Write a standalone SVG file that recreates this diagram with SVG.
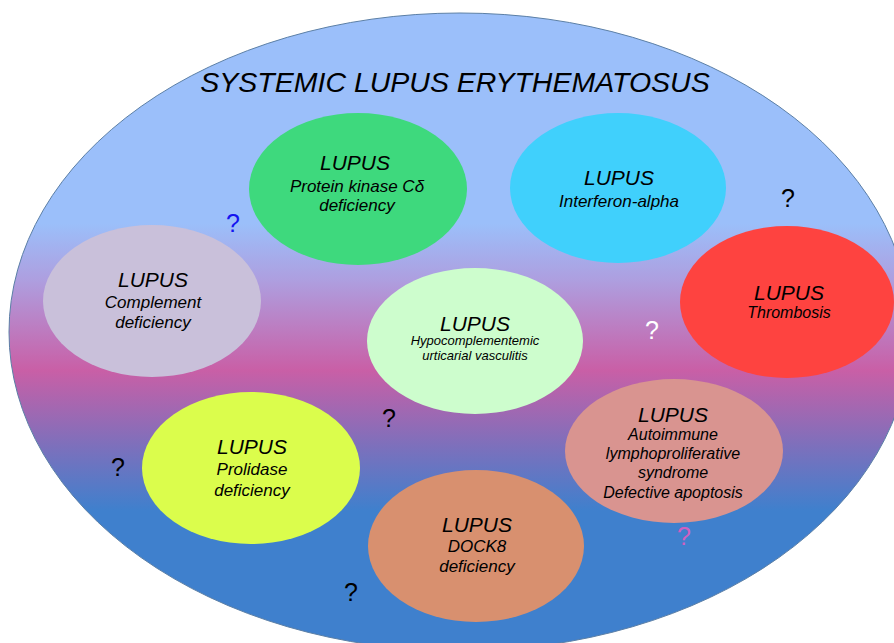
<svg xmlns="http://www.w3.org/2000/svg" width="894" height="643" viewBox="0 0 894 643">
<defs>
<linearGradient id="bg" x1="0" y1="0" x2="0" y2="1">
<stop offset="0" stop-color="#9bbffa"/>
<stop offset="0.33" stop-color="#9bbffa"/>
<stop offset="0.42" stop-color="#ae9edf"/>
<stop offset="0.56" stop-color="#c95fa6"/>
<stop offset="0.68" stop-color="#7c70bc"/>
<stop offset="0.78" stop-color="#3f80cd"/>
<stop offset="1" stop-color="#3f80cd"/>
</linearGradient>
<style>
text{font-family:"Liberation Sans",Arial,sans-serif;text-anchor:middle;fill:#000}
.it{font-style:italic}
.t{font-size:21px}
.s{font-size:17px}
.q{font-size:25px}
</style>
</defs>
<rect width="894" height="643" fill="#ffffff"/>
<g id="sle">
<ellipse cx="460" cy="332" rx="451" ry="319" fill="url(#bg)" stroke="#5b7fa6" stroke-width="1"/>
<text class="it" x="455" y="92" font-size="28.5">SYSTEMIC LUPUS ERYTHEMATOSUS</text>
</g>
<g id="pkcd">
<ellipse cx="358" cy="189" rx="109" ry="76" fill="#3ed97d"/>
<text class="it t" x="355" y="170">LUPUS</text>
<text class="it s" x="357" y="192">Protein kinase Cδ</text>
<text class="it s" x="357" y="211">deficiency</text>
</g>
<g id="ifn">
<ellipse cx="618" cy="188" rx="108" ry="75" fill="#40d0fc"/>
<text class="it t" x="619" y="185">LUPUS</text>
<text class="it s" x="619" y="207">Interferon-alpha</text>
</g>
<g id="complement">
<ellipse cx="152" cy="301" rx="109" ry="76" fill="#c9c0da"/>
<text class="it t" x="153" y="287">LUPUS</text>
<text class="it s" x="153" y="308">Complement</text>
<text class="it s" x="153" y="328">deficiency</text>
</g>
<g id="thrombosis">
<ellipse cx="787" cy="302" rx="107" ry="76" fill="#fe4340"/>
<text class="it t" x="789" y="300">LUPUS</text>
<text class="it" x="789" y="318" font-size="16">Thrombosis</text>
</g>
<g id="huv">
<ellipse cx="475" cy="341" rx="108" ry="73" fill="#cdfdcd"/>
<text class="it t" x="475" y="331">LUPUS</text>
<text class="it" x="475" y="345" font-size="13">Hypocomplementemic</text>
<text class="it" x="475" y="360" font-size="13">urticarial vasculitis</text>
</g>
<g id="alps">
<ellipse cx="674" cy="451" rx="109" ry="72" fill="#d99490"/>
<text class="it t" x="673" y="422">LUPUS</text>
<text class="it" x="673" y="440" font-size="16">Autoimmune</text>
<text class="it" x="673" y="459" font-size="16">lymphoproliferative</text>
<text class="it" x="673" y="478" font-size="16">syndrome</text>
<text class="it" x="673" y="498" font-size="16">Defective apoptosis</text>
</g>
<g id="prolidase">
<ellipse cx="251" cy="468" rx="109" ry="76" fill="#dbfd4c"/>
<text class="it t" x="252" y="454">LUPUS</text>
<text class="it s" x="252" y="475">Prolidase</text>
<text class="it s" x="252" y="496">deficiency</text>
</g>
<g id="dock8">
<ellipse cx="476" cy="546" rx="108" ry="76" fill="#d8906f"/>
<text class="it t" x="477" y="532">LUPUS</text>
<text class="it s" x="477" y="552">DOCK8</text>
<text class="it s" x="477" y="572">deficiency</text>
</g>
<g id="question-marks">
<text class="q" x="233" y="232" style="fill:#1414f0">?</text>
<text class="q" x="788" y="207">?</text>
<text class="q" x="652" y="339" style="fill:#ffffff">?</text>
<text class="q" x="389" y="427">?</text>
<text class="q" x="118" y="476">?</text>
<text class="q" x="684" y="545" style="fill:#d060c0">?</text>
<text class="q" x="351" y="601">?</text>
</g>
</svg>
